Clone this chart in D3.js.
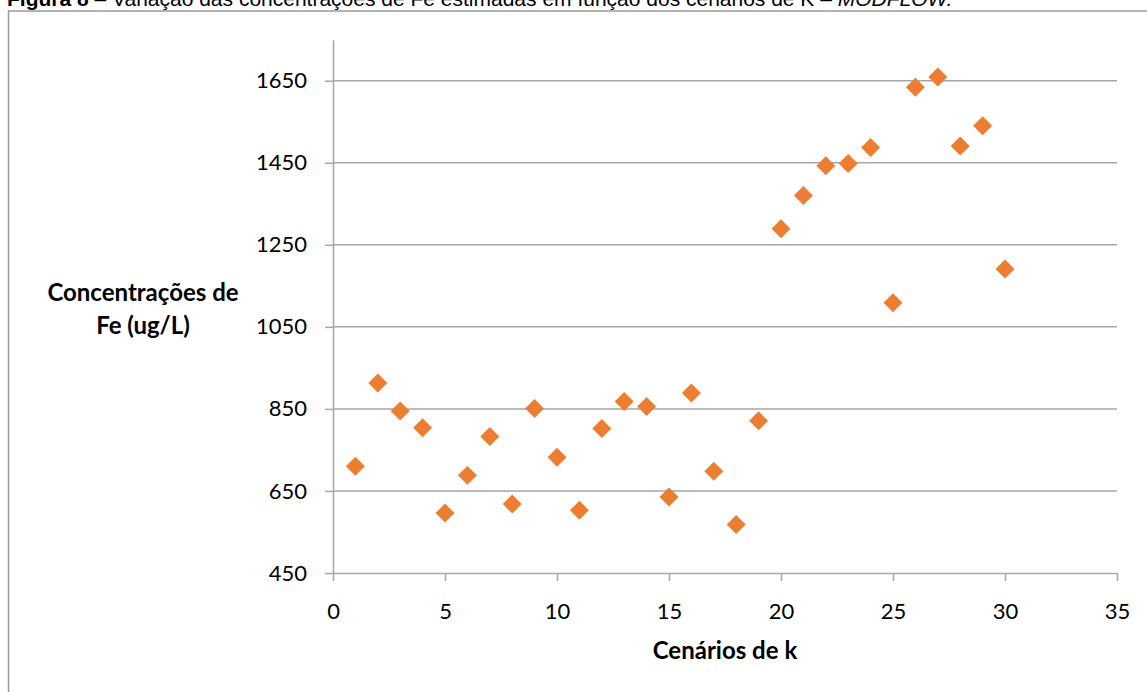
<!doctype html>
<html>
<head>
<meta charset="utf-8">
<script src="https://d3js.org/d3.v7.min.js"></script>
<style>
body { margin: 0; background: #fff; }
svg { display: block; }
</style>
</head>
<body>
<svg></svg>
<script>

// cenarios de k (1..30) and estimated Fe concentration (ug/L)
const cenarios = d3.range(1, 31);
const concFe = [710, 913, 845, 804, 596, 688, 783, 618, 851, 732,
                603, 802, 868, 856, 635, 889, 698, 568, 821, 1289,
                1370, 1443, 1448, 1487, 1109, 1634, 1659, 1491, 1540, 1191];
const xTicks = [0, 5, 10, 15, 20, 25, 30, 35];
const yTicks = [450, 650, 850, 1050, 1250, 1450, 1650];

const W = 1147, H = 692;
const svg = d3.select("svg").attr("width", W).attr("height", H);

// caption, cropped at the top of the image
const cap = svg.append("text")
	.attr("x", 7).attr("y", 6)
	.attr("font-family", "Liberation Sans, Arial, sans-serif")
	.attr("font-size", 21)
	.attr("fill", "#000");
cap.append("tspan").attr("font-weight", "bold").text("Figura 8");
cap.append("tspan").text(" – Variação das concentrações de Fe estimadas em função dos cenários de K – ");
cap.append("tspan").attr("font-style", "italic").text("MODFLOW.");

// chart frame
svg.append("rect")
	.attr("x", 8.5).attr("y", 11)
	.attr("width", W + 20).attr("height", H + 20)
	.attr("fill", "none")
	.attr("stroke", "#9a9a9a")
	.attr("stroke-width", 1.5);

const x = d3.scaleLinear().domain([0, 35]).range([333, 1117]);
const y = d3.scaleLinear().domain([450, 1750]).range([573, 39.7]);

const font = "Lato, 'Open Sans', sans-serif";
const axisColor = "#a6a6a6";

// gridlines
svg.append("g").selectAll("line").data(yTicks.filter(d => d > 450)).join("line")
	.attr("x1", x(0)).attr("x2", x(35))
	.attr("y1", d => y(d)).attr("y2", d => y(d))
	.attr("stroke", axisColor).attr("stroke-width", 1.5);

// y axis
const yAxis = svg.append("g")
	.attr("transform", `translate(${x(0)},0)`)
	.call(d3.axisLeft(y).tickValues(yTicks).tickFormat(d3.format("d"))
		.tickSize(8).tickPadding(18).tickSizeOuter(0));
// x axis
const xAxis = svg.append("g")
	.attr("transform", `translate(0,${y(450)})`)
	.call(d3.axisBottom(x).tickValues(xTicks).tickFormat(d3.format("d"))
		.tickSize(8).tickPadding(22).tickSizeOuter(0));

[xAxis, yAxis].forEach(g => {
	g.select(".domain").attr("stroke", axisColor).attr("stroke-width", 1.5);
	g.selectAll(".tick line").attr("stroke", axisColor).attr("stroke-width", 1.5);
	g.selectAll(".tick text")
		.attr("font-family", font)
		.attr("font-size", 22)
		.attr("fill", "#000");
});

// axis titles
svg.append("text")
	.attr("x", (x(0) + x(35)) / 2).attr("y", 659)
	.attr("text-anchor", "middle")
	.attr("font-family", font).attr("font-weight", "bold").attr("font-size", 24)
	.text("Cenários de k");

const yt = svg.append("text")
	.attr("text-anchor", "middle")
	.attr("font-family", font).attr("font-weight", "bold").attr("font-size", 24);
yt.append("tspan").attr("x", 143).attr("y", 301).text("Concentrações de");
yt.append("tspan").attr("x", 143).attr("y", 334).text("Fe (ug/L)");

// points
const diamond = d3.symbol().type(d3.symbolSquare).size(180);
svg.append("g").selectAll("path").data(cenarios).join("path")
	.attr("d", diamond)
	.attr("transform", (d, i) => `translate(${x(d)},${y(concFe[i])}) rotate(45)`)
	.attr("fill", "#ed7d31");

</script>
</body>
</html>
